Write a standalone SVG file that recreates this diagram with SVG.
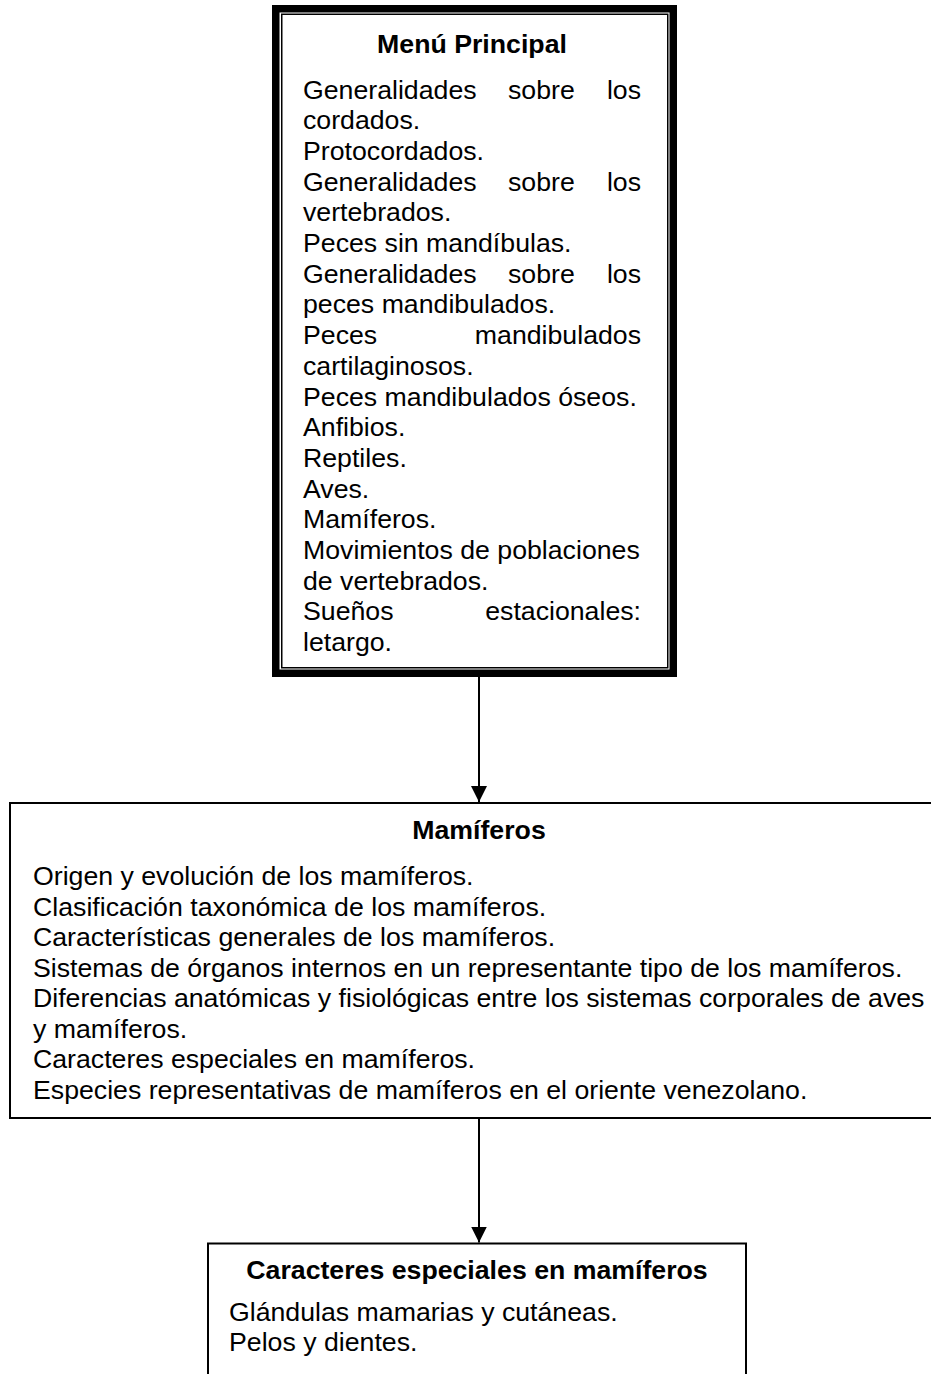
<svg xmlns="http://www.w3.org/2000/svg" width="931" height="1374" viewBox="0 0 931 1374">
<style>
  text { font-family: "Liberation Sans", Arial, sans-serif; font-size: 26.7px; fill: #000; }
  .h { font-weight: bold; text-anchor: middle; }
  .box { fill: #fff; stroke: #000; stroke-width: 2; }
  .conn { stroke: #000; stroke-width: 2; fill: none; }
</style>
<defs>
  <marker id="arrow" markerUnits="userSpaceOnUse" markerWidth="16" markerHeight="16" refX="16" refY="8" orient="auto">
    <path d="M0,0 L16,8 L0,16 Z" fill="#000"/>
  </marker>
</defs>
<rect width="931" height="1374" fill="#fff"/>

<g id="menu-principal">
  <rect x="275.75" y="8.75" width="397.5" height="664.5" fill="#fff" stroke="#000" stroke-width="7.5"/>
  <rect x="281.75" y="14.25" width="386" height="653.5" fill="none" stroke="#000" stroke-width="1.5"/>
  <text class="h" x="472" y="53">Menú Principal</text>
  <text x="303" y="98.5">Generalidades</text><text x="508" y="98.5">sobre</text><text x="641" y="98.5" text-anchor="end">los</text>
  <text x="303" y="129.2">cordados.</text>
  <text x="303" y="159.9">Protocordados.</text>
  <text x="303" y="190.6">Generalidades</text><text x="508" y="190.6">sobre</text><text x="641" y="190.6" text-anchor="end">los</text>
  <text x="303" y="221.3">vertebrados.</text>
  <text x="303" y="252">Peces sin mandíbulas.</text>
  <text x="303" y="282.7">Generalidades</text><text x="508" y="282.7">sobre</text><text x="641" y="282.7" text-anchor="end">los</text>
  <text x="303" y="313.4">peces mandibulados.</text>
  <text x="303" y="344.1">Peces</text><text x="641" y="344.1" text-anchor="end">mandibulados</text>
  <text x="303" y="374.8">cartilaginosos.</text>
  <text x="303" y="405.5">Peces mandibulados óseos.</text>
  <text x="303" y="436.2">Anfibios.</text>
  <text x="303" y="466.9">Reptiles.</text>
  <text x="303" y="497.6">Aves.</text>
  <text x="303" y="528.3">Mamíferos.</text>
  <text x="303" y="559">Movimientos de poblaciones</text>
  <text x="303" y="589.7">de vertebrados.</text>
  <text x="303" y="620.4">Sueños</text><text x="641" y="620.4" text-anchor="end">estacionales:</text>
  <text x="303" y="651.1">letargo.</text>
</g>

<g id="mamiferos">
  <rect class="box" x="10" y="803" width="940" height="315"/>
  <text class="h" x="479" y="839">Mamíferos</text>
  <text x="33" y="885">Origen y evolución de los mamíferos.</text>
  <text x="33" y="915.5">Clasificación taxonómica de los mamíferos.</text>
  <text x="33" y="946">Características generales de los mamíferos.</text>
  <text x="33" y="976.5">Sistemas de órganos internos en un representante tipo de los mamíferos.</text>
  <text x="33" y="1007">Diferencias anatómicas y fisiológicas entre los sistemas corporales de aves</text>
  <text x="33" y="1037.5">y mamíferos.</text>
  <text x="33" y="1068">Caracteres especiales en mamíferos.</text>
  <text x="33" y="1098.5">Especies representativas de mamíferos en el oriente venezolano.</text>
</g>

<g id="caracteres-especiales">
  <rect class="box" x="208" y="1243.5" width="538" height="150"/>
  <text class="h" x="477" y="1279">Caracteres especiales en mamíferos</text>
  <text x="229" y="1321">Glándulas mamarias y cutáneas.</text>
  <text x="229" y="1351">Pelos y dientes.</text>
</g>

<g id="connectors">
  <line class="conn" x1="479" y1="677" x2="479" y2="802" marker-end="url(#arrow)"/>
  <line class="conn" x1="479" y1="1118" x2="479" y2="1242.5" marker-end="url(#arrow)"/>
</g>
</svg>
